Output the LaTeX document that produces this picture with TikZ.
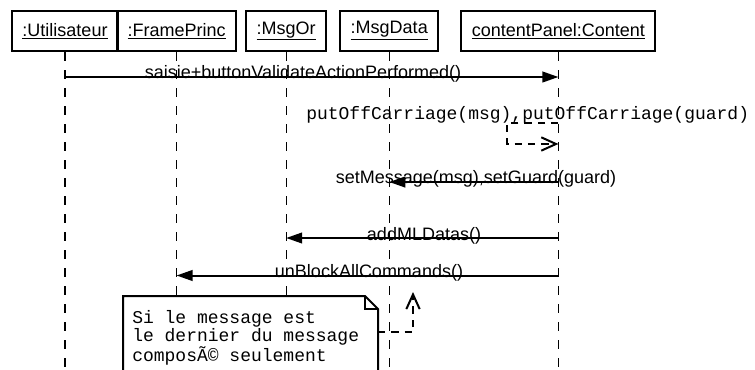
\documentclass[tikz,border=0pt]{standalone}
\usepackage{fontspec}
\setmainfont{Liberation Sans}
\newfontfamily\notefont{Liberation Mono}
\usetikzlibrary{arrows.meta,positioning}

\begin{document}
\begin{tikzpicture}[
    x=0.75pt, y=-0.75pt,
    font=\fontsize{13.5}{16}\selectfont,
    obj/.style={
        draw,
        line width=1.5pt,
        inner xsep=7.9pt,
        inner ysep=0pt,
        minimum height=30.5pt
    },
    life/.style={line width=0.8pt, dash pattern=on 6.75pt off 6.75pt},
    call/.style={-{Triangle[length=12pt,width=8pt]}, line width=1.5pt},
    reply/.style={-{Straight Barb[length=11pt,width=10pt]}, line width=1.5pt, dash pattern=on 5.5pt off 4.5pt},
    msg/.style={anchor=base, inner sep=0pt},
    mono/.style={font=\notefont\fontsize{13.5}{13.1}\selectfont, inner sep=0pt}
]
\useasboundingbox (0,0) rectangle (755,370);

% objets
\node[obj] (ut) at (65,31) {\underline{:Utilisateur}};
\node[obj, right=-2.25pt of ut] (fp) {\underline{:FramePrinc}};
\node[obj, right=6pt of fp] (mo) {\underline{:MsgOr}};
\node[obj, right=9pt of mo] (md) {\underline{:MsgData}};
\node[obj, right=15.75pt of md] (cp) {\underline{contentPanel:Content}};

% lignes de vie
\foreach \o in {ut,fp,mo,md,cp} {
    \coordinate (\o-end) at (\o |- 0,380);
    \draw[life] (\o.south) -- (\o-end);
}

% messages
\coordinate (s1) at (ut |- 0,77);
\coordinate (e1) at (cp |- 0,77);
\draw[call] (s1) -- (e1);
\node[msg] (l1) at (303,78.5) {saisie+buttonValidateActionPerformed()};

\coordinate (s2) at (cp |- 0,123);
\coordinate (e2) at (cp |- 0,144);
\draw[reply] (s2) -- (507,123) -- (507,144) -- (e2);
\node[mono, anchor=base west] (l2) at (306,120) {putOffCarriage(msg),putOffCarriage(guard)};

\coordinate (s3) at (cp |- 0,182);
\coordinate (e3) at (md |- 0,182);
\draw[call] (s3) -- (e3);
\node[msg] (l3) at (476,183.5) {setMessage(msg),setGuard(guard)};

\coordinate (s4) at (cp |- 0,238);
\coordinate (e4) at (mo |- 0,238);
\draw[call] (s4) -- (e4);
\node[msg] (l4) at (424,240) {addMLDatas()};

\coordinate (s5) at (cp |- 0,275.5);
\coordinate (e5) at (fp |- 0,275.5);
\draw[call] (s5) -- (e5);
\node[msg] (l5) at (369,277) {unBlockAllCommands()};

% note
\draw[line width=1.5pt, fill=white] (123,400) -- (123,296) -- (365,296) -- (378,309) -- (378,400);
\draw[line width=0.8pt] (365,296) -- (365,309) -- (378,309);
\node[mono, anchor=base west, align=left] (txt) at (132,361) {Si le message est\\le dernier du message\\composÃ© seulement};

\coordinate (noteR) at (378,332);
\coordinate (tip) at (413,292);
\draw[reply] (noteR) -- (413,332) -- (tip);
\end{tikzpicture}
\end{document}
